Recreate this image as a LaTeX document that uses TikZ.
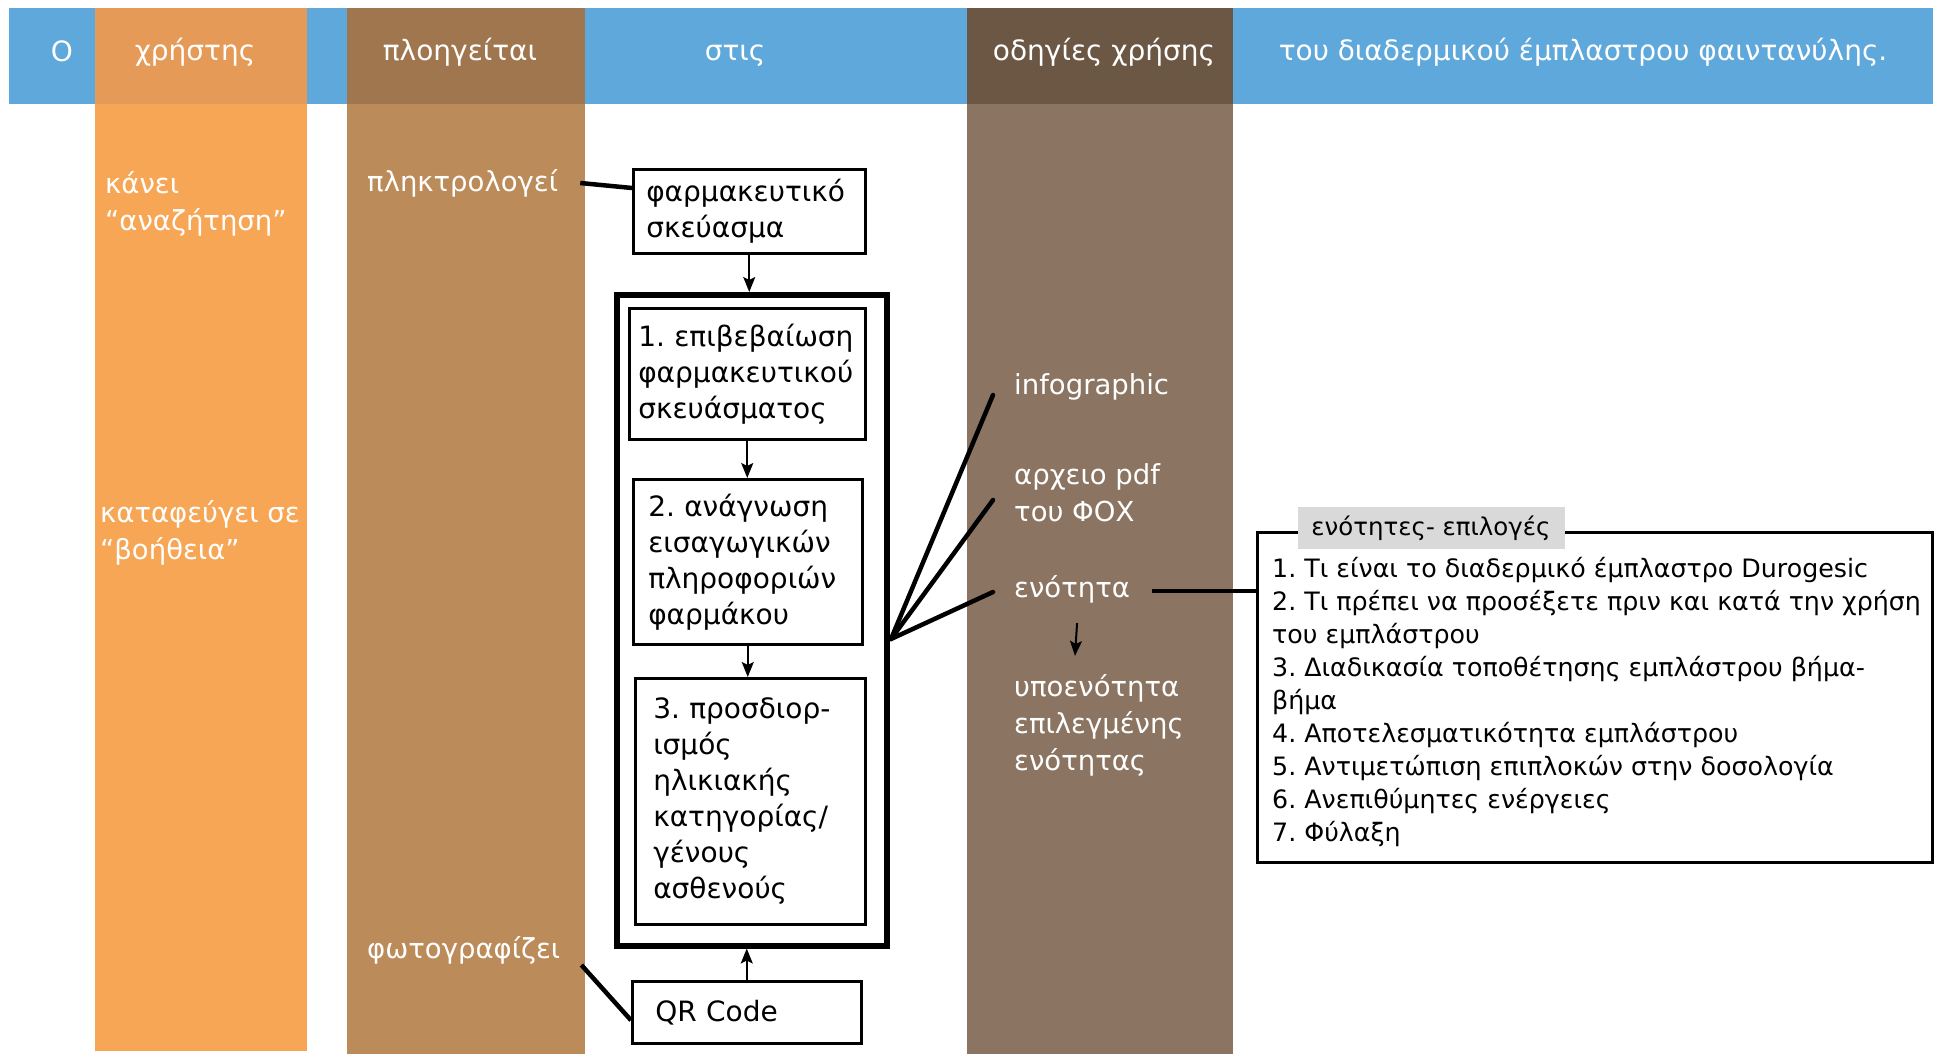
\documentclass[tikz,border=0pt]{standalone}
\usepackage{fontspec}
\setmainfont{DejaVu Sans}
\usetikzlibrary{arrows.meta}
\definecolor{hblue}{HTML}{5FA8DB}
\definecolor{orhead}{HTML}{E59A57}
\definecolor{orbody}{HTML}{F7A656}
\definecolor{brhead}{HTML}{A0764E}
\definecolor{brbody}{HTML}{BC8B5A}
\definecolor{dkhead}{HTML}{6B5744}
\definecolor{dkbody}{HTML}{8B7562}
\definecolor{ttlgray}{HTML}{D9D9D9}
\frenchspacing
\begin{document}
\begin{tikzpicture}[x=1pt,y=-1pt,
  hdr/.style={text=white, font=\fontsize{28}{34}\selectfont, inner sep=0pt, anchor=base},
  wtxt/.style={text=white, font=\fontsize{27.5}{37}\selectfont, align=left, inner sep=0pt, anchor=west},
  stepbox/.style={draw=black, line width=2.5pt, anchor=north west, align=left,
    font=\fontsize{28}{36}\selectfont, inner ysep=0pt,
    execute at begin node={\hyphenpenalty=10000}},
  conn/.style={line width=4.5pt},
  fanline/.style={line width=4.5pt, line cap=round},
  arr/.style={line width=2pt, -{Stealth[length=15pt,width=12pt,inset=3pt]}},
]
\useasboundingbox (0,0) rectangle (1935,1054);
\fill[white] (0,0) rectangle (1935,1054);
% header band and columns
\fill[hblue] (9,8) rectangle (1933,104);
\fill[orbody] (95,104) rectangle (307,1051);
\fill[orhead] (95,8) rectangle (307,104);
\fill[brbody] (347,104) rectangle (585,1054);
\fill[brhead] (347,8) rectangle (585,104);
\fill[dkbody] (967,104) rectangle (1233,1054);
\fill[dkhead] (967,8) rectangle (1233,104);
% header texts
\node[hdr] (h0) at (62,62) {Ο};
\node[hdr] (h1) at (195,61) {χρήστης};
\node[hdr] (h2) at (460,61) {πλοηγείται};
\node[hdr] (h3) at (735,61) {στις};
\node[hdr] (h4) at (1104,61) {οδηγίες χρήσης};
\node[hdr] (h5) at (1583,61) {του διαδερμικού έμπλαστρου φαιντανύλης.};
% column texts
\node[wtxt] (kanei) at (105,204) {κάνει\\“αναζήτηση”};
\node[wtxt] (kataf) at (100,533) {καταφεύγει σε\\“βοήθεια”};
\node[wtxt] (plk) at (367,183) {πληκτρολογεί};
\node[wtxt] (fot) at (367,950) {φωτογραφίζει};
\node[wtxt] (info) at (1014,387) {infographic};
\node[wtxt] (pdf) at (1014,493) {αρχειο pdf\\του ΦΟΧ};
\node[wtxt] (enot) at (1014,589) {ενότητα};
\node[wtxt] (ypo) at (1014,725) {υποενότητα\\επιλεγμένης\\ενότητας};
% boxes
\node[stepbox, inner xsep=13pt, text width=206pt, minimum height=84pt] (farm) at (632,168) {φαρμακευτικό\\σκεύασμα};
\node[draw=black, line width=5.5pt, anchor=north west, minimum width=270pt, minimum height=651pt, inner sep=0pt] (big) at (614,292) {};
\node[stepbox, inner xsep=9pt, text width=218pt, minimum height=131pt] (b1) at (628,307) {1.~επιβεβαίωση\\φαρμακευτικού\\σκευάσματος};
\node[stepbox, inner xsep=15pt, text width=199pt, minimum height=165pt] (b2) at (632,478) {2.~ανάγνωση\\εισαγωγικών\\πληροφοριών\\φαρμάκου};
\node[stepbox, inner xsep=18pt, text width=194pt, minimum height=246pt] (b3) at (634,677) {3.~προσδιορ-\\ισμός\\ηλικιακής\\κατηγορίας/\\γένους\\ασθενούς};
\node[stepbox, inner xsep=23pt, text width=183pt, minimum height=62pt] (qr) at (631,980) {QR~Code};
% options box
\node[draw=black, line width=2.5pt, anchor=north west, minimum width=675pt, minimum height=330pt, inner sep=0pt] (opts) at (1256,531) {};
\node[fill=ttlgray, minimum width=267pt, minimum height=42pt, inner sep=0pt, font=\fontsize{24.5}{30}\selectfont] (ttl) at (1431,528) {ενότητες- επιλογές};
\node[anchor=north west, align=left, inner sep=0pt, font=\fontsize{25.3}{33}\selectfont] (list) at (1272,557) {1. Τι είναι το διαδερμικό έμπλαστρο Durogesic\\2. Τι πρέπει να προσέξετε πριν και κατά την χρήση\\του εμπλάστρου\\3. Διαδικασία τοποθέτησης εμπλάστρου βήμα-\\βήμα\\4. Αποτελεσματικότητα εμπλάστρου\\5. Αντιμετώπιση επιπλοκών στην δοσολογία\\6. Ανεπιθύμητες ενέργειες\\7. Φύλαξη};
% arrows
\draw[arr] (farm.south) -- (farm.south |- big.north);
\draw[arr] (b1.south) -- (b1.south |- b2.north);
\draw[arr] (b2.south) -- (b2.south |- b3.north);
\draw[arr] (qr.north) -- (qr.north |- big.south);
\draw[arr] ([xshift=5pt,yshift=-20pt]enot.south) -- ([xshift=61pt,yshift=18pt]ypo.north west);
% connector lines
\draw[conn] ([xshift=22pt]plk.east) -- ([yshift=-20pt]farm.north west);
\draw[conn] ([xshift=21pt,yshift=-15pt]fot.east) -- ([yshift=-8pt]qr.west);
\coordinate (fan) at (891,639);
\draw[fanline] (fan) -- ([xshift=-21pt,yshift=-8pt]info.west);
\draw[fanline] (fan) -- ([xshift=-21pt,yshift=-7pt]pdf.west);
\draw[fanline] (fan) -- ([xshift=-21pt,yshift=-3pt]enot.west);
\coordinate (enr) at ([xshift=22pt,yshift=-2pt]enot.east);
\draw[conn] (enr) -- (enr -| opts.west);
\end{tikzpicture}
\end{document}
